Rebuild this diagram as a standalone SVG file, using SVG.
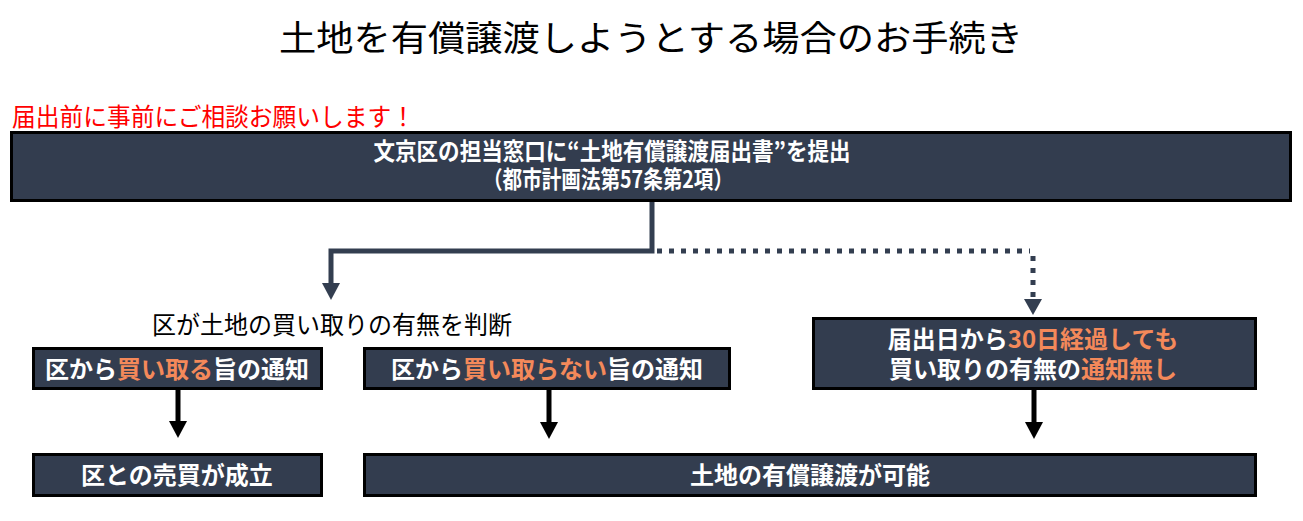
<svg xmlns="http://www.w3.org/2000/svg" width="1303" height="521" viewBox="0 0 1303 521">
<defs>
<style>
.t{font-family:"Noto Sans CJK JP","Noto Sans",sans-serif;}
.box{fill:#333d4f;stroke:#000;stroke-width:3;}
.bt{font-family:"Noto Sans CJK JP","Noto Sans",sans-serif;font-weight:bold;font-size:24px;fill:#fff;text-anchor:middle;}
.or{fill:#f4895a;}
.solid{fill:none;stroke:#333e50;stroke-width:5;}
.dot{fill:none;stroke:#333e50;stroke-width:5;stroke-dasharray:5 7;}
.blk{fill:none;stroke:#000;stroke-width:5;}
</style>
</defs>
<rect width="1303" height="521" fill="#fff"/>
<text class="t" x="651" y="51" font-size="35" text-anchor="middle" textLength="744" lengthAdjust="spacingAndGlyphs">土地を有償譲渡しようとする場合のお手続き</text>
<text class="t" x="12" y="126" font-size="25" fill="#ff0000" textLength="403" lengthAdjust="spacingAndGlyphs">届出前に事前にご相談お願いします！</text>
<text class="t" x="332" y="334" font-size="25" text-anchor="middle" textLength="360" lengthAdjust="spacingAndGlyphs">区が土地の買い取りの有無を判断</text>

<g id="connectors">
<path class="solid" d="M652,201 V251 H331 V284"/>
<polygon points="322,283 340,283 331,300" fill="#333e50"/>
<path class="dot" d="M657,251 H1030 M1033,256 V298"/>
<polygon points="1024,299 1042,299 1033,315" fill="#333e50"/>
<path class="blk" d="M178,389 V423"/>
<polygon points="169,421 187,421 178,438" fill="#000"/>
<path class="blk" d="M549,389 V424"/>
<polygon points="540,422 558,422 549,439" fill="#000"/>
<path class="blk" d="M1034,389 V424"/>
<polygon points="1025,422 1043,422 1034,439" fill="#000"/>
</g>

<g id="n-submit">
<rect class="box" x="11.5" y="132.5" width="1279" height="68"/>
<text class="bt" x="612" y="160" font-size="24" textLength="477" lengthAdjust="spacingAndGlyphs">文京区の担当窓口に“土地有償譲渡届出書”を提出</text>
<text class="bt" x="608" y="188" font-size="24" textLength="250" lengthAdjust="spacingAndGlyphs">（都市計画法第57条第2項）</text>
</g>

<g id="n-buy">
<rect class="box" x="33.5" y="348.5" width="288" height="40"/>
<text class="bt" x="177" y="378">区から<tspan class="or">買い取る</tspan>旨の通知</text>
</g>

<g id="n-nobuy">
<rect class="box" x="364.5" y="348.5" width="365" height="40"/>
<text class="bt" x="547" y="378">区から<tspan class="or">買い取らない</tspan>旨の通知</text>
</g>

<g id="n-30days">
<rect class="box" x="813.5" y="318.5" width="442" height="70"/>
<text class="bt" x="1033" y="348">届出日から<tspan class="or">30日経過しても</tspan></text>
<text class="bt" x="1033" y="378">買い取りの有無の<tspan class="or">通知無し</tspan></text>
</g>

<g id="n-sale">
<rect class="box" x="33.5" y="454.5" width="288" height="41"/>
<text class="bt" x="177" y="484">区との売買が成立</text>
</g>

<g id="n-transfer">
<rect class="box" x="364.5" y="454.5" width="891" height="41"/>
<text class="bt" x="810" y="484">土地の有償譲渡が可能</text>
</g>
</svg>
